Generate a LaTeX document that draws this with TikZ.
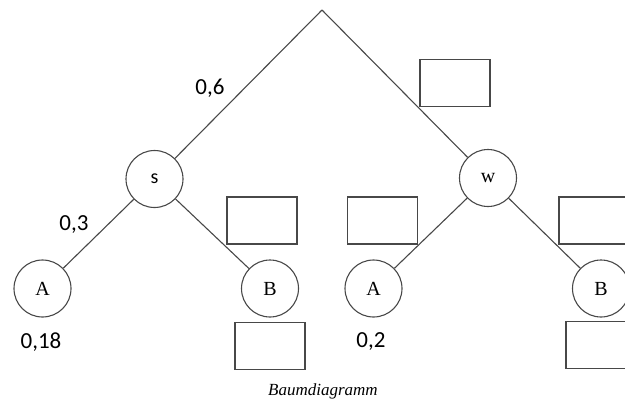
\documentclass[tikz,border=0pt]{standalone}
\usepackage{fontspec}
\setmainfont{Liberation Serif}
\newfontfamily\carlito{Carlito}
\usepackage{tikz}
\usetikzlibrary{positioning}
\definecolor{linegray}{HTML}{484848}

\begin{document}
\begin{tikzpicture}[x=1pt, y=-1pt,
        event/.style={draw=linegray, line width=1.1pt, circle, minimum size=57pt,
                      inner sep=0pt, font=\fontsize{20}{24}\selectfont},
        blank/.style={draw=linegray, line width=1.1pt, minimum width=70pt,
                      minimum height=47pt, inner sep=0pt},
        prob/.style={inner sep=0pt, font=\carlito\fontsize{23}{27}\selectfont},
        branch/.style={draw=linegray, line width=1.1pt}]
        \clip (0,0) rectangle (625,405);

        % tree
        \coordinate (root) at (322,10);
        \node[event] (s) at (154.5,179) {\carlito s};
        \node[event] (w) at (488,178) {w};
        \node[event] (a1) at (42.5,288.5) {A};
        \node[event] (b1) at (270,288.5) {B};
        \node[event] (a2) at (373.5,288.5) {A};
        \node[event] (b2) at (601,288.5) {B};

        \draw[branch] (root) -- (s);
        \draw[branch] (root) -- (w);
        \draw[branch] (s) -- (a1);
        \draw[branch] (s) -- (b1);
        \draw[branch] (w) -- (a2);
        \draw[branch] (w) -- (b2);

        % empty fields
        \node[blank] (rootw) at (455,83) {};
        \node[blank] (sb) at (262,220.5) {};
        \node[blank] (wa) at (382.5,220.5) {};
        \node[blank] (wb) at (594,220.5) {};
        \node[blank, below=4pt of b1] (pb1) {};
        \node[blank, below=3pt of b2] (pb2) {};

        % given values
        \node[prob] (ps) at (210,88) {0,6};
        \node[prob] (psa) at (74,225) {0,3};
        \node[prob] (pa1) at (41,342) {0,18};
        \node[prob] (pa2) at (371,342) {0,2};

        \node (caption) at (323,391) {\itshape\fontsize{17}{20}\selectfont Baumdiagramm};
    \end{tikzpicture}
\end{document}
